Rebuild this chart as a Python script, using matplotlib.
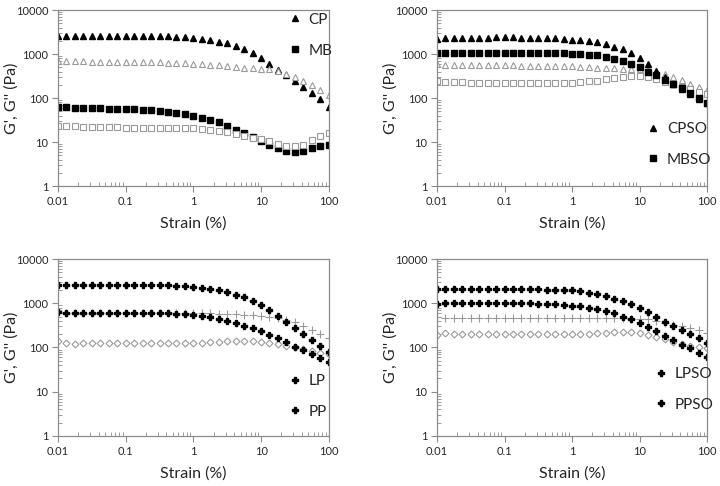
import matplotlib
matplotlib.use('Agg')
import matplotlib.pyplot as plt
from matplotlib.ticker import LogLocator, FixedLocator, FixedFormatter

plt.rcParams['font.family'] = ['Lato', 'DejaVu Sans']

strain = [0.01, 0.0133, 0.0178, 0.0237, 0.0316, 0.0422, 0.0562, 0.075,
          0.1, 0.133, 0.178, 0.237, 0.316, 0.422, 0.562, 0.75,
          1, 1.33, 1.78, 2.37, 3.16, 4.22, 5.62, 7.5,
          10, 13.3, 17.8, 23.7, 31.6, 42.2, 56.2, 75, 100]

# panel 1
cp_g1 = [2600, 2620, 2640, 2650, 2650, 2650, 2650, 2650, 2650, 2650, 2640, 2620, 2600, 2560, 2500, 2430,
         2350, 2250, 2100, 1900, 1750, 1570, 1340, 1070, 820, 610, 440, 330, 240, 180, 130, 94, 63]
cp_g2 = [700, 690, 690, 685, 680, 680, 675, 670, 670, 665, 660, 655, 650, 645, 635, 625,
         610, 590, 580, 560, 540, 510, 490, 480, 470, 460, 420, 350, 300, 240, 195, 155, 120]
mb_g1 = [62, 62, 61, 59, 59, 59, 58, 57, 56, 56, 55, 55, 52, 49, 47, 44,
         40, 35, 32, 28, 23, 19, 16, 13, 10.5, 8.7, 7.3, 6.3, 5.9, 6.4, 7.4, 8.2, 8.5]
mb_g2 = [23.5, 23.5, 23, 22.5, 22.5, 22, 22, 22, 21.5, 21.5, 21.5, 21.5, 21, 21, 21, 20.5,
         20.5, 20, 19, 18, 17, 15.5, 14, 12.5, 11.5, 10.5, 9, 8.2, 8, 8.8, 11, 14, 16.5]

# panel 2
cpso_g1 = [2250, 2300, 2330, 2350, 2370, 2380, 2390, 2400, 2400, 2400, 2390, 2380, 2360, 2340, 2300, 2250,
           2150, 2050, 1950, 1850, 1700, 1480, 1280, 1040, 800, 590, 420, 300, 205, 158, 123, 98, 76]
mbso_g1 = [1090, 1080, 1080, 1080, 1080, 1080, 1080, 1080, 1080, 1080, 1080, 1080, 1070, 1060, 1050, 1040,
           1020, 1000, 970, 940, 880, 790, 690, 590, 500, 400, 330, 265, 215, 166, 130, 100, 76]
cpso_g2 = [590, 580, 575, 570, 565, 565, 560, 560, 555, 555, 550, 550, 545, 540, 540, 535,
           530, 520, 510, 495, 485, 475, 470, 465, 455, 440, 410, 360, 300, 255, 215, 180, 152]
mbso_g2 = [245, 235, 230, 230, 225, 225, 222, 220, 220, 220, 218, 218, 218, 218, 220, 222,
           225, 230, 240, 250, 270, 295, 310, 320, 315, 300, 270, 235, 205, 180, 158, 140, 125]

# panel 3
lp_g1 = [2650, 2650, 2650, 2650, 2650, 2650, 2650, 2650, 2650, 2640, 2620, 2600, 2570, 2530, 2480, 2430,
         2350, 2250, 2100, 1950, 1780, 1570, 1350, 1120, 900, 690, 510, 380, 280, 205, 150, 110, 78]
lp_g2 = [620, 610, 605, 605, 605, 605, 605, 605, 605, 605, 605, 605, 600, 600, 600, 600,
         600, 595, 590, 580, 570, 560, 550, 540, 520, 500, 460, 420, 370, 300, 250, 200, 165]
pp_g1 = [650, 600, 600, 610, 610, 610, 610, 610, 610, 610, 605, 600, 595, 590, 580, 565,
         545, 515, 480, 440, 400, 350, 310, 270, 230, 195, 160, 130, 105, 87, 70, 57, 46]
pp_g2 = [140, 125, 120, 125, 125, 125, 125, 125, 125, 125, 125, 124, 124, 124, 125, 125,
         126, 128, 130, 133, 137, 140, 142, 140, 135, 128, 120, 110, 100, 92, 82, 75, 72]

# panel 4
lpso_g1 = [2150, 2100, 2100, 2100, 2100, 2100, 2100, 2100, 2100, 2100, 2090, 2080, 2060, 2040, 2020, 2000,
           1950, 1850, 1720, 1580, 1430, 1250, 1100, 950, 780, 630, 490, 380, 300, 245, 200, 165, 125]
lpso_g2 = [490, 465, 460, 460, 460, 460, 460, 460, 460, 460, 460, 460, 460, 460, 460, 460,
           460, 460, 460, 460, 460, 460, 455, 450, 440, 430, 400, 360, 330, 310, 280, 250, 215]
ppso_g1 = [960, 1000, 1000, 1000, 1000, 1000, 1000, 1000, 1000, 1000, 995, 990, 980, 970, 960, 930,
           890, 850, 800, 740, 670, 590, 500, 430, 360, 290, 235, 185, 145, 115, 95, 77, 60]
ppso_g2 = [195, 210, 205, 205, 205, 205, 205, 205, 202, 202, 200, 200, 200, 200, 200, 200,
           200, 205, 207, 210, 215, 220, 225, 220, 210, 195, 175, 155, 135, 120, 110, 100, 97]

x_ticks = [0.01, 0.1, 1, 10, 100]
x_labels = ['0.01', '0.1', '1', '10', '100']
y_ticks = [1, 10, 100, 1000, 10000]
y_labels = ['1', '10', '100', '1000', '10000']

TXT = '#262626'
EDGE = '#8c8c8c'
OPEN = '#9a9a9a'


def setup(ax):
    ax.set_xscale('log')
    ax.set_yscale('log')
    ax.set_xlim(0.01, 100)
    ax.set_ylim(1, 10000)
    ax.xaxis.set_major_locator(FixedLocator(x_ticks))
    ax.xaxis.set_major_formatter(FixedFormatter(x_labels))
    ax.yaxis.set_major_locator(FixedLocator(y_ticks))
    ax.yaxis.set_major_formatter(FixedFormatter(y_labels))
    ax.xaxis.set_minor_locator(LogLocator(base=10, subs=range(2, 10)))
    ax.yaxis.set_minor_locator(LogLocator(base=10, subs=range(2, 10)))
    ax.xaxis.set_minor_formatter(FixedFormatter([]))
    ax.yaxis.set_minor_formatter(FixedFormatter([]))
    ax.tick_params(which='major', direction='out', length=4, color=EDGE, labelsize=8,
                   labelcolor=TXT, pad=3)
    ax.tick_params(which='minor', direction='in', length=3, color=EDGE)
    for s in ax.spines.values():
        s.set_color(EDGE)
        s.set_linewidth(0.9)
    ax.set_xlabel('Strain (%)', fontsize=11.5, color=TXT, labelpad=7)
    ax.set_ylabel("G', G'' (Pa)", fontsize=11.5, color=TXT)
    ax.yaxis.set_label_coords(-0.145, 0.5)


def legend(ax, handles, labels, x, y):
    ax.legend(handles, labels, loc='upper left', bbox_to_anchor=(x, y), frameon=False,
              borderaxespad=0, borderpad=0, handlelength=0.8, handletextpad=0.5,
              labelspacing=1.1, fontsize=11, labelcolor=TXT)


fig = plt.figure(figsize=(7.2, 4.86), dpi=100)
ax1 = fig.add_axes([0.0806, 0.617, 0.376, 0.362])
ax2 = fig.add_axes([0.607, 0.617, 0.375, 0.362])
ax3 = fig.add_axes([0.0806, 0.103, 0.376, 0.364])
ax4 = fig.add_axes([0.607, 0.103, 0.375, 0.364])

# panel 1
h1, = ax1.plot(strain, cp_g1, '^', color='black', ms=5, ls='none')
ax1.plot(strain, cp_g2, '^', mfc='white', mec=OPEN, mew=0.8, ms=5, ls='none')
h2, = ax1.plot(strain, mb_g1, 's', color='black', ms=4.8, ls='none')
ax1.plot(strain, mb_g2, 's', mfc='white', mec=OPEN, mew=0.8, ms=4.8, ls='none')
setup(ax1)
legend(ax1, [h1, h2], ['CP', 'MB'], 0.852, 0.985)

# panel 2
ax2.plot(strain, cpso_g2, '^', mfc='white', mec=OPEN, mew=0.8, ms=5, ls='none')
ax2.plot(strain, mbso_g2, 's', mfc='white', mec=OPEN, mew=0.8, ms=4.8, ls='none')
h2, = ax2.plot(strain, mbso_g1, 's', color='black', ms=4.8, ls='none')
h1, = ax2.plot(strain, cpso_g1, '^', color='black', ms=5, ls='none')
setup(ax2)
legend(ax2, [h1, h2], ['CPSO', 'MBSO'], 0.778, 0.365)

# panel 3
ax3.plot(strain, lp_g2, '+', color=OPEN, mew=0.8, ms=5.5, ls='none')
ax3.plot(strain, pp_g2, 'D', mfc='white', mec=OPEN, mew=0.8, ms=3.5, ls='none')
h1, = ax3.plot(strain, lp_g1, 'P', color='black', ms=4.5, ls='none')
h2, = ax3.plot(strain, pp_g1, 'P', color='black', ms=4.5, ls='none')
setup(ax3)
legend(ax3, [h1, h2], ['LP', 'PP'], 0.852, 0.35)

# panel 4
ax4.plot(strain, lpso_g2, '+', color=OPEN, mew=0.8, ms=5.5, ls='none')
ax4.plot(strain, ppso_g2, 'D', mfc='white', mec=OPEN, mew=0.8, ms=3.5, ls='none')
h1, = ax4.plot(strain, lpso_g1, 'P', color='black', ms=4.5, ls='none')
h2, = ax4.plot(strain, ppso_g1, 'P', color='black', ms=4.5, ls='none')
setup(ax4)
legend(ax4, [h1, h2], ['LPSO', 'PPSO'], 0.807, 0.39)

fig.savefig('out.png', dpi=100)
